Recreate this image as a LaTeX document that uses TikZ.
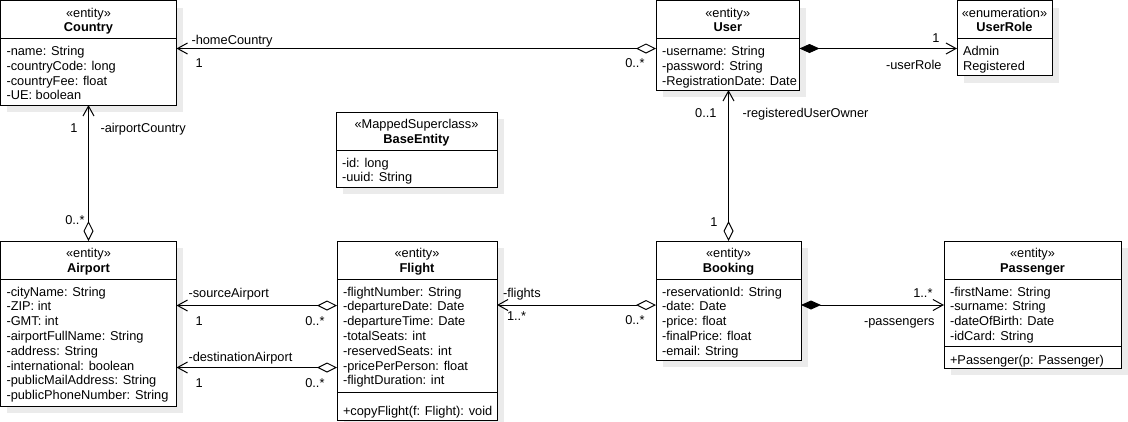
\documentclass[tikz,border=0pt]{standalone}
\usepackage{fontspec}
\setmainfont{Liberation Sans}
\usetikzlibrary{arrows.meta,shadows}
\newcommand{\umlfont}{\fontsize{12.8}{15}\selectfont}
\tikzset{
    box shadow/.style={drop shadow={shadow xshift=6.5pt,shadow yshift=-7pt,fill=black!8,opacity=1}},
    classbox/.style={draw,fill=white,box shadow,anchor=north west,outer sep=0pt,inner sep=0pt},
    stereo/.style={anchor=base,inner sep=0pt},
    classname/.style={anchor=base,inner sep=0pt,font=\umlfont\bfseries},
    attr/.style={anchor=base west,inner sep=0pt},
    lbl/.style={inner sep=0pt,text height=9.2pt,text depth=0pt},
    aggr/.style={{Diamond[open,length=20pt,width=10pt]}-{Straight Barb[length=10pt,width=11pt]}},
    comp/.style={{Diamond[length=20pt,width=9pt]}-{Straight Barb[length=10pt,width=11pt]}},
}
\tikzstyle{every node}=[font=\umlfont]
\newcommand{\umlclass}[7]{%
    \node[classbox,minimum width=#3,minimum height=#4] (#1) at (#2) {};
    \node[stereo] (#1-st) at ([yshift=-16.5]#1.north) {«#5»};
    \node[classname] (#1-nm) at ([yshift=-31]#1.north) {#6};
    \draw ([yshift=-38]#1.north west) -- ([yshift=-38]#1.north east);
    \foreach \row [count=\i] in {#7}
        \node[attr] (#1-a\i) at ([xshift=5.5,yshift={-40.2-14.8*\i}]#1.north west) {\row};
}
\newcommand{\umlmethod}[4]{%
    \draw ([yshift=-#2]#1.north west) -- ([yshift=-#2]#1.north east);
    \node[attr] (#1-m) at ([xshift=5.5,yshift=-#3]#1.north west) {#4};
}
\begin{document}
\begin{tikzpicture}[x=1pt,y=-1pt,line width=1pt]
    \useasboundingbox (0,0) rectangle (1128,421);
    \umlclass{country}{0.5,0.5}{176}{104.5}{entity}{Country}{-name: String,-countryCode: long,-countryFee: float,-UE: boolean}
    \umlclass{user}{656,0.5}{143.5}{89.5}{entity}{User}{-username: String,-password: String,-RegistrationDate: Date}
    \umlclass{userrole}{957,0.5}{95}{75}{enumeration}{UserRole}{Admin,Registered}
    \umlclass{baseentity}{336,112}{161}{75}{MappedSuperclass}{BaseEntity}{-id: long,-uuid: String}
    \umlclass{airport}{0.5,241}{176}{165}{entity}{Airport}{-cityName: String,-ZIP: int,-GMT: int,-airportFullName: String,-address: String,-international: boolean,-publicMailAddress: String,-publicPhoneNumber: String}
    \umlclass{flight}{337,241}{160}{179}{entity}{Flight}{-flightNumber: String,-departureDate: Date,-departureTime: Date,-totalSeats: int,-reservedSeats: int,-pricePerPerson: float,-flightDuration: int}
    \umlmethod{flight}{151}{174}{+copyFlight(f: Flight): void}
    \umlclass{booking}{656,241}{145}{119}{entity}{Booking}{-reservationId: String,-date: Date,-price: float,-finalPrice: float,-email: String}
    \umlclass{passenger}{944,241}{177}{127}{entity}{Passenger}{-firstName: String,-surname: String,-dateOfBirth: Date,-idCard: String}
    \umlmethod{passenger}{105}{123}{+Passenger(p: Passenger)}

    \draw[aggr] ([yshift=-48]user.north west) -- ([yshift=-48]country.north east)
        node[lbl,at end,anchor=west,xshift=14.5,yshift=9] (home-role) {-homeCountry}
        node[lbl,at end,anchor=west,xshift=18.5,yshift=-14.5] (home-one) {1}
        node[lbl,at start,anchor=east,xshift=-11,yshift=-14.5] (home-many) {0..*};
    \draw[comp] ([yshift=-48]user.north east) -- ([yshift=-48]userrole.north west)
        node[lbl,at end,anchor=east,xshift=-17,yshift=11] (role-one) {1}
        node[lbl,at end,anchor=east,xshift=-15,yshift=-16.5] (role-name) {-userRole};
    \draw[aggr] (booking.north) -- (booking.north |- user.south)
        node[lbl,at end,anchor=east,xshift=-11.5,yshift=-23] (owner-one) {0..1}
        node[lbl,at end,anchor=west,xshift=13.5,yshift=-23] (owner-role) {-registeredUserOwner}
        node[lbl,at start,anchor=east,xshift=-10.5,yshift=19] (owner-many) {1};
    \draw[aggr] (airport.north) -- (country.south)
        node[lbl,at end,anchor=east,xshift=-10.5,yshift=-23] (ac-one) {1}
        node[lbl,at end,anchor=west,xshift=11.5,yshift=-23] (ac-role) {-airportCountry}
        node[lbl,at start,anchor=east,xshift=-3.5,yshift=21] (ac-many) {0..*};
    \draw[aggr] ([yshift=-64.5]flight.north west) -- ([yshift=-64.5]airport.north east)
        node[lbl,at end,anchor=west,xshift=11.5,yshift=13] (src-role) {-sourceAirport}
        node[lbl,at end,anchor=west,xshift=18.5,yshift=-15] (src-one) {1}
        node[lbl,at start,anchor=east,xshift=-12,yshift=-15] (src-many) {0..*};
    \draw[aggr] ([yshift=-126.5]flight.north west) -- ([yshift=-126.5]airport.north east)
        node[lbl,at end,anchor=west,xshift=11.5,yshift=11] (dst-role) {-destinationAirport}
        node[lbl,at end,anchor=west,xshift=18.5,yshift=-15.5] (dst-one) {1}
        node[lbl,at start,anchor=east,xshift=-12,yshift=-15.5] (dst-many) {0..*};
    \draw[aggr] ([yshift=-64]booking.north west) -- ([yshift=-64]flight.north east)
        node[lbl,at end,anchor=west,xshift=5.5,yshift=12.5] (fl-role) {-flights}
        node[lbl,at end,anchor=west,xshift=9.5,yshift=-11] (fl-one) {1..*}
        node[lbl,at start,anchor=east,xshift=-11,yshift=-15] (fl-many) {0..*};
    \draw[comp] ([yshift=-64]booking.north east) -- ([yshift=-64]passenger.north west)
        node[lbl,at end,anchor=east,xshift=-11,yshift=11.7] (pas-one) {1..*}
        node[lbl,at end,anchor=east,xshift=-9,yshift=-15.5] (pas-role) {-passengers};
\end{tikzpicture}
\end{document}
